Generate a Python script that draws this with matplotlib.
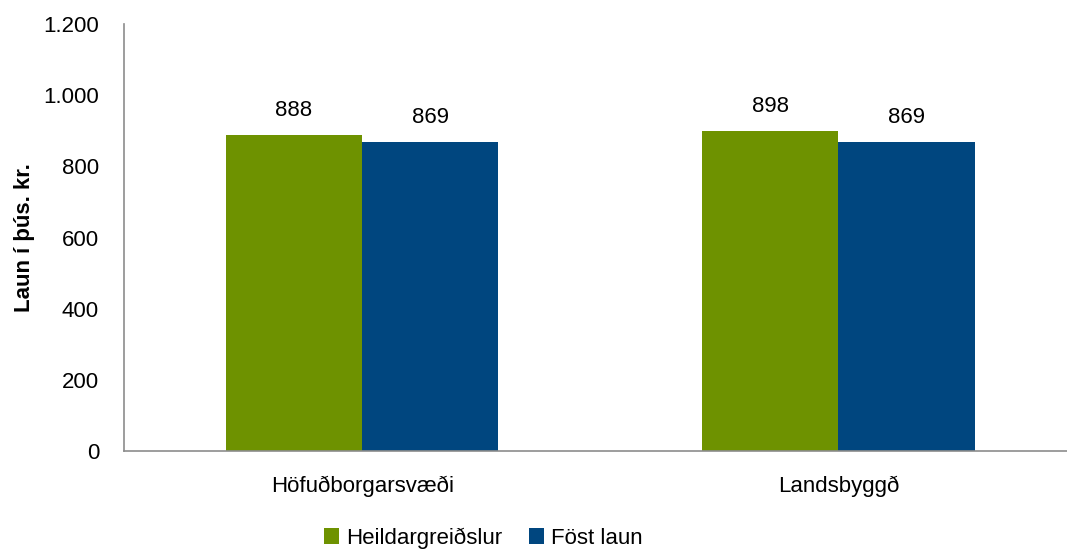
import matplotlib.pyplot as plt
import numpy as np

flokkar = ['Höfuðborgarsvæði', 'Landsbyggð']
heildargreidslur = [888, 898]
fost_laun = [869, 869]

plt.rcParams['font.family'] = ['Liberation Sans Narrow', 'Liberation Sans', 'DejaVu Sans']

fig = plt.figure(figsize=(10.67, 5.51), dpi=100)
ax = fig.add_axes([124/1067, 1 - 451/551, 1 - 124/1067, (451-24)/551])

x = np.arange(len(flokkar))
w = 0.286
b1 = ax.bar(x - w/2, heildargreidslur, w, color='#6e9200', label='Heildargreiðslur')
b2 = ax.bar(x + w/2, fost_laun, w, color='#00467f', label='Föst laun')
for bars in (b1, b2):
    for r in bars:
        ax.text(r.get_x() + r.get_width()/2, r.get_height() + 40, f'{int(r.get_height())}',
                ha='center', va='bottom', fontsize=16)

ax.set_xlim(-0.5, 1.48)
ax.set_ylim(0, 1200)
ax.set_yticks(range(0, 1201, 200))
ax.set_yticklabels([f'{v:,}'.replace(',', '.') for v in range(0, 1201, 200)])
ax.set_xticks(x)
ax.set_xticklabels(flokkar)
ax.tick_params(axis='both', length=0, labelsize=16)
ax.tick_params(axis='y', pad=18)
ax.tick_params(axis='x', pad=18)
ax.set_ylabel('Laun í þús. kr.', fontsize=16, fontweight='bold', labelpad=6)
for s in ['top', 'right']:
    ax.spines[s].set_visible(False)
for s in ['left', 'bottom']:
    ax.spines[s].set_color('#8c8c8c')
    ax.spines[s].set_linewidth(1.2)

fig.legend(handles=[b1, b2], loc='center', bbox_to_anchor=(483/1067, 1 - 538/551), ncol=2,
           frameon=False, fontsize=16, handlelength=0.7, handleheight=0.7,
           handletextpad=0.3, columnspacing=1.2, borderpad=0)

fig.savefig('out.png', dpi=100)
